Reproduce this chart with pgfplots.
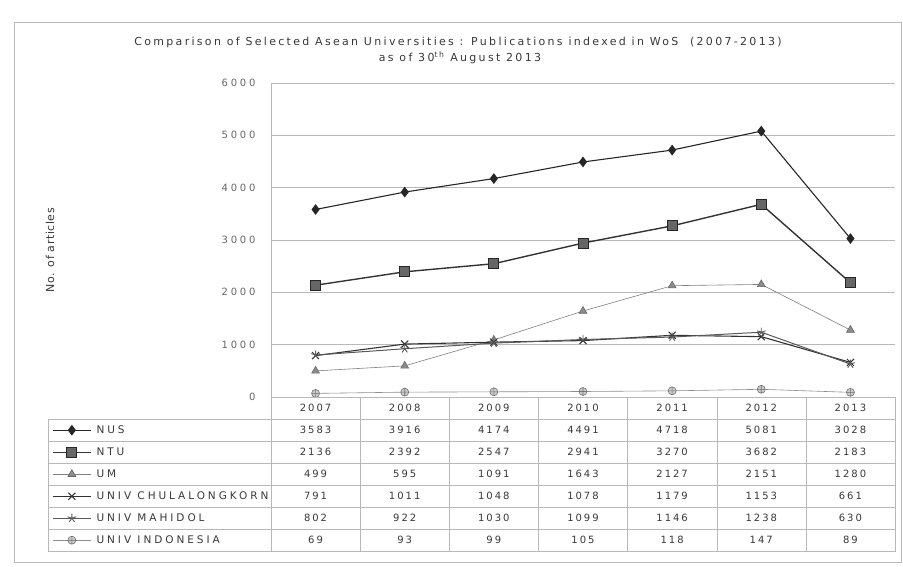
\documentclass[border=0pt]{standalone}
\usepackage{fontspec}
\setmainfont{DejaVu Sans}
\newfontfamily\ttlfont[LetterSpace=21]{DejaVu Sans}
\newfontfamily\ylabfont[LetterSpace=5]{DejaVu Sans}
\newfontfamily\labfont[LetterSpace=28]{DejaVu Sans}
\newfontfamily\numfont[LetterSpace=20]{DejaVu Sans}
\newfontfamily\tickfont[LetterSpace=28]{DejaVu Sans}
\usepackage{pgfplots}
\usepackage{pgfplotstable}
\pgfplotsset{compat=1.18}

\definecolor{txt}{gray}{0.22}
\definecolor{gridc}{gray}{0.72}

% publications per year, read off the data table
\pgfplotstableread{
x year nus  ntu  um   chula mahidol ui
0 2007 3583 2136 499  791   802     69
1 2008 3916 2392 595  1011  922     93
2 2009 4174 2547 1091 1048  1030    99
3 2010 4491 2941 1643 1078  1099    105
4 2011 4718 3270 2127 1179  1146    118
5 2012 5081 3682 2151 1153  1238    147
6 2013 3028 2183 1280 661   630     89
}\pubs

\newcommand{\numf}{\numfont\fontsize{10}{12}\selectfont}
\newcommand{\tickf}{\tickfont\fontsize{10}{12}\selectfont}
\newcommand{\labf}{\labfont\fontsize{10.5}{12}\selectfont}

\begin{document}
\begin{tikzpicture}
\useasboundingbox (0,0) rectangle (903pt,566pt);
\draw[gray!55] (14pt,4pt) rectangle (901pt,544pt);

\node[text=txt, font=\ttlfont\fontsize{11}{13}\selectfont] at (458pt,524pt)
  {Comparison of Selected Asean Universities : Publications indexed in WoS\ \ (2007-2013)};
\node[text=txt, font=\ttlfont\fontsize{11}{13}\selectfont] at (460pt,508pt)
  {as of 30\textsuperscript{th} August 2013};
\node[text=txt, font=\ylabfont\fontsize{11}{13}\selectfont, rotate=90] at (50pt,316pt)
  {No. of articles};

% line chart
\begin{axis}[
  at={(271pt,169pt)}, anchor=south west,
  scale only axis, width=624pt, height=314pt,
  xmin=-0.5, xmax=6.5, ymin=0, ymax=6000,
  xtick=\empty, ytick={0,1000,...,6000},
  axis x line=none, axis y line=left,
  axis line style={gridc,-},
  ymajorgrids, grid style={gridc},
  major tick length=0pt,
  yticklabel shift=12pt,
  yticklabel style={font=\tickf, text=black!60},
  /pgf/number format/assume math mode=true,
  /pgf/number format/1000 sep={},
  legend image code/.code={\draw[mark repeat=2,mark phase=2]
    plot coordinates {(0pt,0pt)(19pt,0pt)(38pt,0pt)};},
  legend cell align=left,
  legend style={at={(-0.351,-0.0844)}, anchor=north west,
    draw=none, fill=none, inner sep=0pt, row sep=9pt, column sep=5pt,
    font=\labf, text=txt,
    nodes={inner sep=0pt, text height=10pt, text depth=3pt}},
]
\addplot[black!85, line width=1.1pt, mark=diamond*, mark size=4.5pt,
  mark options={solid, fill=black!85}] table[x=x, y=nus]{\pubs};
\addlegendentry{NUS}
\addplot[black!80, line width=1.4pt, mark=square*, mark size=5pt,
  mark options={fill=black!60, draw=black!85, line width=0.8pt}] table[x=x, y=ntu]{\pubs};
\addlegendentry{NTU}
\addplot[black!50, line width=0.6pt, mark=triangle*, mark size=4.5pt,
  mark options={fill=black!45, draw=black!60}] table[x=x, y=um]{\pubs};
\addlegendentry{UM}
\addplot[black!80, line width=1.1pt, mark=x, mark size=5pt,
  mark options={line width=1pt}] table[x=x, y=chula]{\pubs};
\addlegendentry{UNIV CHULALONGKORN}
\addplot[black!65, line width=1pt, mark=star, mark size=4.5pt,
  mark options={line width=0.9pt}] table[x=x, y=mahidol]{\pubs};
\addlegendentry{UNIV MAHIDOL}
\addplot[black!45, line width=0.6pt, mark=oplus*, mark size=4pt,
  mark options={fill=black!20, draw=black!55}] table[x=x, y=ui]{\pubs};
\addlegendentry{UNIV INDONESIA}
\end{axis}

% data table under the chart
\begin{axis}[
  at={(271pt,169pt)}, anchor=north west,
  scale only axis, width=624pt, height=154pt,
  xmin=-0.5, xmax=6.5, ymin=0, ymax=7, y dir=reverse,
  xtick={-0.5,0.5,...,6.5}, ytick={0,...,7},
  xticklabels={}, yticklabels={},
  grid=major, grid style={gridc},
  axis line style={gridc},
  major tick length=0pt,
  clip=false,
  cell/.style={draw=none, mark=none,
    nodes near coords, point meta=explicit symbolic,
    nodes near coords style={anchor=center, font=\numf, text=txt}},
]
\pgfplotsinvokeforeach{1,...,7}{
  \draw[gridc] (axis cs:-3,#1) -- (axis cs:-0.5,#1);
}
\draw[gridc] (axis cs:-3,1) -- (axis cs:-3,7);
\addplot[cell] table[x=x, y expr=0.5, meta=year]{\pubs};
\addplot[cell] table[x=x, y expr=1.5, meta=nus]{\pubs};
\addplot[cell] table[x=x, y expr=2.5, meta=ntu]{\pubs};
\addplot[cell] table[x=x, y expr=3.5, meta=um]{\pubs};
\addplot[cell] table[x=x, y expr=4.5, meta=chula]{\pubs};
\addplot[cell] table[x=x, y expr=5.5, meta=mahidol]{\pubs};
\addplot[cell] table[x=x, y expr=6.5, meta=ui]{\pubs};
\end{axis}
\end{tikzpicture}
\end{document}
